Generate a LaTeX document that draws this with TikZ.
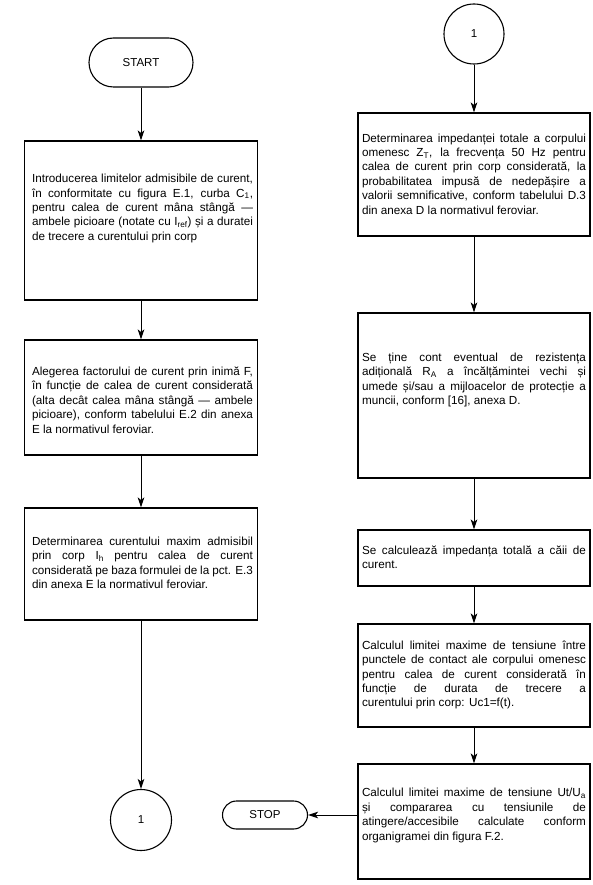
\documentclass[tikz,border=0pt]{standalone}
\usepackage{fontspec}
\setmainfont{Liberation Sans}
\usetikzlibrary{arrows.meta}
\hbadness=10000
\hfuzz=20pt
\begin{document}
\begin{tikzpicture}[x=1pt,y=-1pt,
  box/.style={draw, line width=1.1pt, rectangle, inner sep=0pt},
  txt/.style={text width=#1, align=justify, inner sep=0pt,
    font=\fontsize{11.7}{14.4}\selectfont},
  term/.style={draw, line width=1.1pt, rectangle, inner sep=0pt,
    font=\fontsize{11.5}{13}\selectfont},
  conn/.style={draw, line width=1.1pt, circle, inner sep=0pt,
    minimum size=61pt, font=\fontsize{11.5}{13}\selectfont},
  arr/.style={line width=1pt, -{Stealth[length=10pt,width=6.5pt,inset=2.5pt]}}]
\useasboundingbox (0,0) rectangle (592,885);
\fill[white] (0,0) rectangle (592,885);

% ---------- left column ----------
\node[term, minimum width=104pt, minimum height=49pt, rounded corners=24.5pt] (start) at (141,62.5) {START};

\node[box, minimum width=233pt, minimum height=159pt] (b1) at (141,220.5) {};
\node[txt=221pt] (t1) at (142.5,208.5) {Introducerea limitelor admisibile de curent,\linebreak
în conformitate cu figura E.1, curba C\textsubscript{1},\linebreak
pentru calea de curent mâna stângă —\linebreak
ambele picioare (notate cu I\textsubscript{ref}) și a duratei\linebreak
de trecere a curentului prin corp};

\node[box, minimum width=233pt, minimum height=115pt] (b2) at (141,397.5) {};
\node[txt=221pt] (t2) at (142.5,400) {Alegerea factorului de curent prin inimă F,\linebreak
în funcție de calea de curent considerată\linebreak
(alta decât calea mâna stângă — ambele\linebreak
picioare), conform tabelului E.2 din anexa\linebreak
E la normativul feroviar.};

\node[box, minimum width=233pt, minimum height=112pt] (b3) at (141,564) {};
\node[txt=221pt] (t3) at (142.5,563) {Determinarea curentului maxim admisibil\linebreak
prin corp I\textsubscript{h} pentru calea de curent\linebreak
considerată pe baza formulei de la pct. E.3\linebreak
din anexa E la normativul feroviar.};

\node[conn] (c1a) at (141,820) {1};

\draw[arr] (start) -- (b1);
\draw[arr] (b1) -- (b2);
\draw[arr] (b2) -- (b3);
\draw[arr] (b3) -- (c1a);

% ---------- right column ----------
\node[conn, minimum size=60pt] (c1b) at (474,34) {1};

\node[box, minimum width=232pt, minimum height=123pt] (r1) at (474,174.5) {};
\node[txt=224pt] (s1) at (474,174) {Determinarea impedanței totale a corpului\linebreak
omenesc Z\textsubscript{T}, la frecvența 50 Hz pentru\linebreak
calea de curent prin corp considerată, la\linebreak
probabilitatea impusă de nedepășire a\linebreak
valorii semnificative, conform tabelului D.3\linebreak
din anexa D la normativul feroviar.};

\node[box, minimum width=232pt, minimum height=165pt] (r2) at (474,395.5) {};
\node[txt=224pt] (s2) at (474,380) {Se ține cont eventual de rezistența\linebreak
adițională R\textsubscript{A} a încălțămintei vechi și\linebreak
umede și/sau a mijloacelor de protecție a\linebreak
muncii, conform [16], anexa D.};

\node[box, minimum width=232pt, minimum height=56pt] (r3) at (474,558) {};
\node[txt=224pt] (s3) at (474,557) {Se calculează impedanța totală a căii de\linebreak
curent.};

\node[box, minimum width=232pt, minimum height=103pt] (r4) at (474,675.5) {};
\node[txt=224pt] (s4) at (474,675) {Calculul limitei maxime de tensiune între\linebreak
punctele de contact ale corpului omenesc\linebreak
pentru calea de curent considerată în\linebreak
funcție de durata de trecere a\linebreak
curentului prin corp: Uc1=f(t).};

\node[box, minimum width=232pt, minimum height=115pt] (r5) at (474,821.5) {};
\node[txt=224pt] (s5) at (474,815.5) {Calculul limitei maxime de tensiune Ut/U\textsubscript{a}\linebreak
și compararea cu tensiunile de\linebreak
atingere/accesibile calculate conform\linebreak
organigramei din figura F.2.};

\node[term, minimum width=85pt, minimum height=28pt, rounded corners=14pt] (stop) at (265,815) {STOP};

\draw[arr] (c1b) -- (r1);
\draw[arr] (r1) -- (r2);
\draw[arr] (r2) -- (r3);
\draw[arr] (r3) -- (r4);
\draw[arr] (r4) -- (r5);
\draw[arr] (r5.west |- stop.east) -- (stop.east);
\end{tikzpicture}
\end{document}
